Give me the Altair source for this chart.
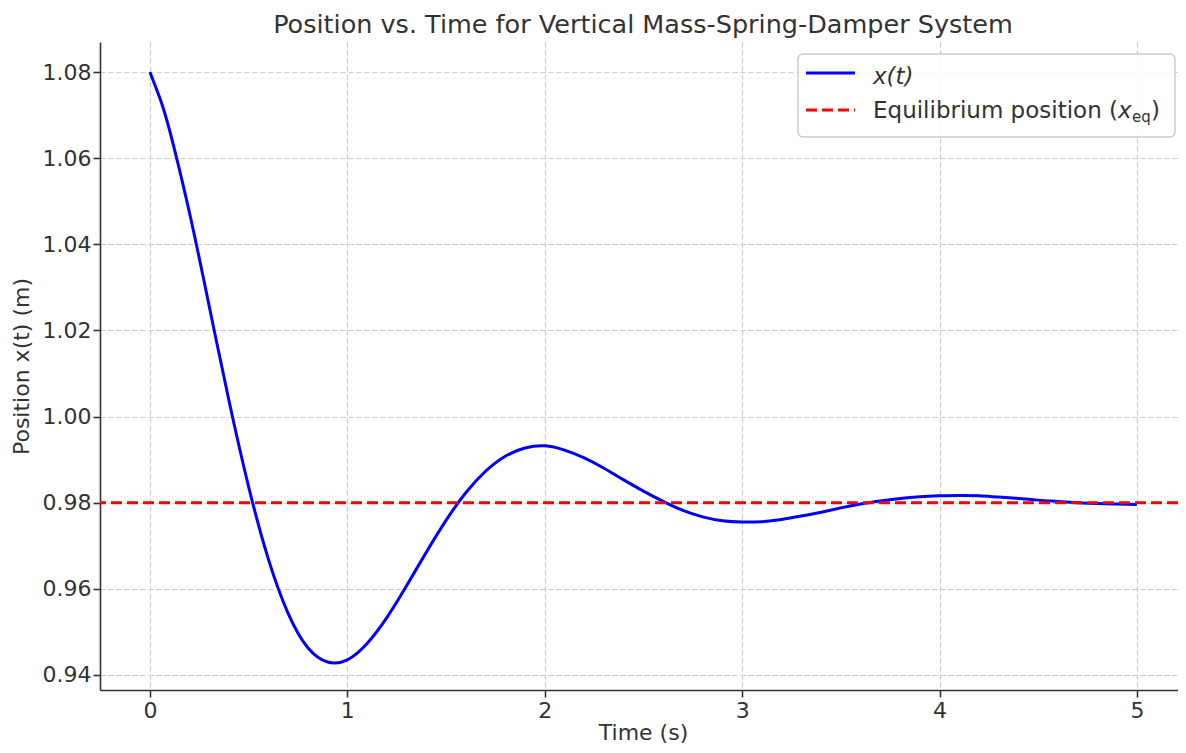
import altair as alt
import pandas as pd

# ---- data ----
t_values = [0.0, 0.05, 0.1, 0.2, 0.3, 0.4, 0.5, 0.6, 0.7, 0.8, 0.9, 1.0,
            1.1, 1.2, 1.3, 1.4, 1.5, 1.6, 1.7, 1.8, 1.9, 2.0, 2.1, 2.2,
            2.3, 2.4, 2.5, 2.6, 2.7, 2.8, 2.9, 3.0, 3.1, 3.2, 3.3, 3.4,
            3.5, 3.6, 3.7, 3.8, 3.9, 4.0, 4.1, 4.2, 4.3, 4.4, 4.5, 4.6,
            4.7, 4.8, 4.9, 5.0]
x_values = [1.0800, 1.0740, 1.0664, 1.0474, 1.0257, 1.0038, 0.9837, 0.9669, 0.9543,
            0.9463, 0.9430, 0.9435, 0.9473, 0.9533, 0.9607, 0.9685, 0.9759,
            0.9823, 0.9873, 0.9908, 0.9927, 0.9932, 0.9922, 0.9904, 0.9880,
            0.9853, 0.9827, 0.9803, 0.9782, 0.9767, 0.9758, 0.9755, 0.9756,
            0.9761, 0.9769, 0.9778, 0.9788, 0.9797, 0.9804, 0.9810, 0.9814,
            0.9816, 0.9817, 0.9816, 0.9813, 0.9810, 0.9806, 0.9803, 0.9800,
            0.9798, 0.9797, 0.9796]
eq_value = [0.98]
x_ticks = [0, 1, 2, 3, 4, 5]
y_ticks = [0.94, 0.96, 0.98, 1.00, 1.02, 1.04, 1.06, 1.08]

title_text = "Position vs. Time for Vertical Mass-Spring-Damper System"
x_title = "Time (s)"
y_title = "Position x(t) (m)"
legend_curve = "x(t)"
legend_eq_main = "Equilibrium position ("
legend_eq_x = "x"
legend_eq_sub = "eq"
legend_eq_close = ")"

df = pd.DataFrame({"t": t_values, "x": x_values})
eq_df = pd.DataFrame({"y": eq_value})
one = pd.DataFrame({"k": [0]})

FONT = "DejaVu Sans"
TXT = "#333333"
GRID = "#cccccc"

xscale = alt.Scale(domain=[-0.253, 5.208], nice=False, zero=False)
yscale = alt.Scale(domain=[0.9365, 1.0870], nice=False, zero=False)

common_axis = dict(
    grid=True, gridDash=[5, 3], gridColor=GRID, gridWidth=1.2,
    domainColor=TXT, domainWidth=1.6, tickColor=TXT, tickWidth=1.6, tickSize=7,
    labelFont=FONT, labelFontSize=22, labelColor=TXT, labelFlush=False,
    labelOverlap=False, titleFont=FONT, titleFontSize=22, titleColor=TXT,
    titleFontWeight="normal",
)

line = alt.Chart(df).mark_line(
    color="#0000ff", strokeWidth=3, interpolate="natural", clip=True
).encode(
    x=alt.X("t:Q", scale=xscale,
            axis=alt.Axis(values=x_ticks, format="d", title=x_title,
                          labelPadding=3, titleX=543, titleY=49,
                          titleBaseline="alphabetic", titleAlign="center",
                          **common_axis)),
    y=alt.Y("x:Q", scale=yscale,
            axis=alt.Axis(values=y_ticks, format=".2f", title=y_title,
                          labelPadding=2, titleX=-72, titleY=324, titleAngle=270,
                          titleBaseline="alphabetic", titleAlign="center",
                          **common_axis)),
)

eq = alt.Chart(eq_df).mark_rule(
    color="#ff0000", strokeWidth=3, strokeDash=[11, 5]
).encode(y=alt.Y("y:Q", scale=yscale))

# ---- legend (drawn manually to keep the subscript) ----
leg_box = alt.Chart(one).mark_rect(
    fill="white", fillOpacity=0.85, stroke=GRID, strokeWidth=1.5, cornerRadius=5
).encode(x=alt.value(698), x2=alt.value(1075), y=alt.value(12), y2=alt.value(95))

leg_blue = alt.Chart(one).mark_rule(color="#0000ff", strokeWidth=3).encode(
    x=alt.value(706), x2=alt.value(755), y=alt.value(31))
leg_red = alt.Chart(one).mark_rule(color="#ff0000", strokeWidth=3, strokeDash=[11, 5]).encode(
    x=alt.value(706), x2=alt.value(755), y=alt.value(68))


def txt(text, x, y, size=23, italic=False, align="left"):
    kw = dict(text=text, align=align, baseline="alphabetic", font=FONT,
              fontSize=size, color=TXT)
    if italic:
        kw["fontStyle"] = "italic"
    return alt.Chart(one).mark_text(**kw).encode(x=alt.value(x), y=alt.value(y))


t1 = txt(legend_curve, 773, 42, italic=True)
t2 = txt(legend_eq_main, 773, 76)
t3 = txt(legend_eq_x, 1018, 76, italic=True)
t4 = txt(legend_eq_sub, 1032, 80, size=15)
t5 = txt(legend_eq_close, 1051, 76)

# chart title as a text mark above the plot
ttl = txt(title_text, 543, -9, size=25.5, align="center")

chart = alt.layer(line, eq, leg_box, leg_blue, leg_red, t1, t2, t3, t4, t5, ttl).properties(
    width=1078, height=648,
    padding={"left": 92, "top": 34, "right": 0, "bottom": 55},
    autosize=alt.AutoSizeParams(type="none"),
    background="white",
).configure_view(stroke=None)

chart.save("out.html", embed_options={"renderer": "svg", "actions": False})
